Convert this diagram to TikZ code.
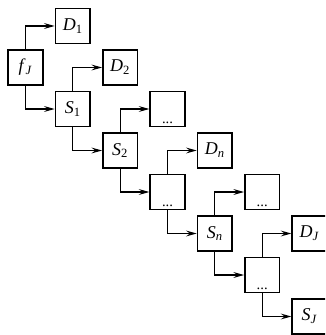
\documentclass[tikz,border=0pt]{standalone}
\usepackage{fontspec}
\setmainfont{Liberation Serif}
\usetikzlibrary{arrows.meta}
\newcommand{\lbl}[2]{\textit{#1}\textsubscript{#2}}
\begin{document}
\begin{tikzpicture}[x=0.75pt,y=-0.75pt,
  box/.style={draw,line width=1.2pt,minimum width=26pt,minimum height=26pt,inner sep=0pt,font=\fontsize{13.5}{15}\selectfont},
  dotbox/.style={box,text height=22pt,text depth=0pt,font=\fontsize{11}{13}\selectfont},
  conn/.style={line width=0.9pt,-{Stealth[length=8pt,width=4.4pt,inset=3pt]}}]
\clip (0,0) rectangle (325,335);
\useasboundingbox (0,0) rectangle (325,335);
% spine
\node[box] (s0) at (25.5,67.5) {\lbl{f}{\textit{J}}};
\node[box] (s1) at (72.8,109) {\lbl{S}{1}};
\node[box] (s2) at (120.2,150.5) {\lbl{S}{2}};
\node[dotbox] (s3) at (167.5,192) {...};
\node[box] (s4) at (214.8,233.5) {\lbl{S}{\textit{n}}};
\node[dotbox] (s5) at (262.2,275) {...};
\node[box] (s6) at (309.5,316.5) {\lbl{S}{\textit{J}}};
% side
\node[box] (d0) at (72.8,26) {\lbl{D}{1}};
\node[box] (d1) at (120.2,67.5) {\lbl{D}{2}};
\node[dotbox] (d2) at (167.5,109) {...};
\node[box] (d3) at (214.8,150.5) {\lbl{D}{\textit{n}}};
\node[dotbox] (d4) at (262.2,192) {...};
\node[box] (d5) at (309.5,233.5) {\lbl{D}{\textit{J}}};
% connectors
\foreach \i [evaluate=\i as \j using int(\i+1)] in {0,...,5}{
  \draw[conn] (s\i.north) |- (d\i.west);
  \draw[conn] (s\i.south) |- (s\j.west);
}
\end{tikzpicture}
\end{document}
